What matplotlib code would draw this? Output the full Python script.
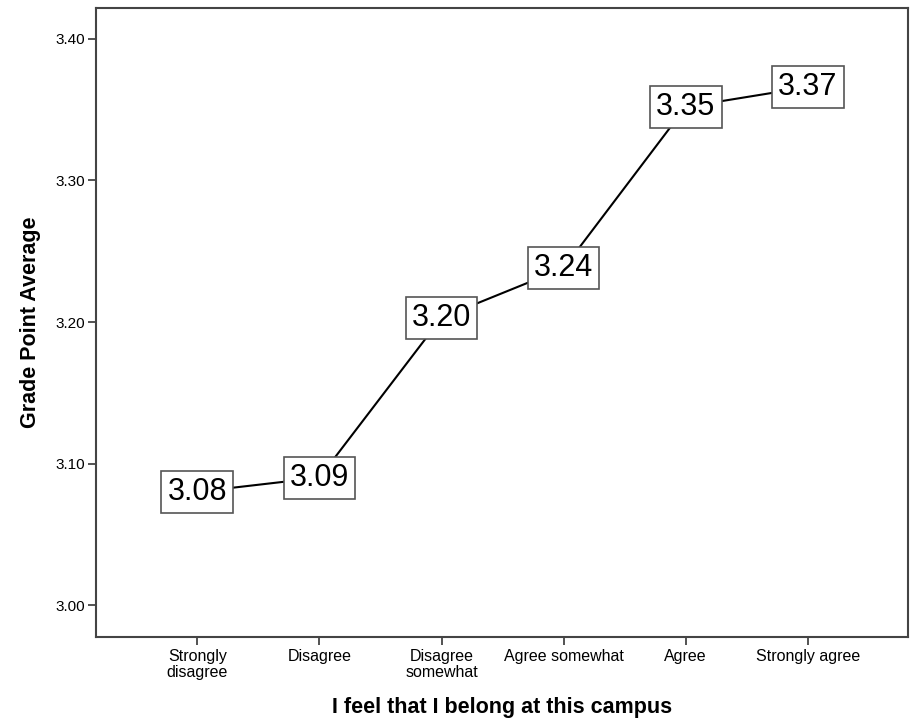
import matplotlib.pyplot as plt
import numpy as np

plt.rcParams['font.family'] = ['Liberation Sans', 'DejaVu Sans']

categories = ['Strongly\ndisagree', 'Disagree', 'Disagree\nsomewhat',
              'Agree somewhat', 'Agree', 'Strongly agree']
gpa = [3.080, 3.090, 3.203, 3.238, 3.352, 3.366]
yticks = [3.00, 3.10, 3.20, 3.30, 3.40]

fig = plt.figure(figsize=(9.10, 7.21), dpi=100)
ax = fig.add_axes([96 / 910, 1 - 637 / 721, 812 / 910, 629 / 721])

x = np.arange(len(categories))
ax.plot(x, gpa, color='black', lw=1.5, zorder=2)
for xi, yi in zip(x, gpa):
    ax.text(xi, yi, '%.2f' % yi, ha='center', va='center', fontsize=22,
            zorder=3,
            bbox=dict(boxstyle='square,pad=0.2', fc='white', ec='#555555', lw=1.2))

ax.set_xlim(-0.83, 5.82)
ax.set_ylim(2.9774, 3.4219)
ax.set_xticks(x)
ax.set_xticklabels(categories, fontsize=11.5, linespacing=1.05)
ax.set_yticks(yticks)
ax.set_yticklabels(['%.2f' % t for t in yticks], fontsize=11)

for s in ax.spines.values():
    s.set_color('#444444')
    s.set_linewidth(1.5)
ax.tick_params(direction='out', length=6, width=1.3, color='#444444', pad=3)
ax.tick_params(axis='y', pad=2)

ax.set_xlabel('I feel that I belong at this campus', fontsize=15.5, fontweight='bold',
              labelpad=12)
ax.set_ylabel('Grade Point Average', fontsize=15.5, fontweight='bold', labelpad=10)

fig.savefig('out.png', dpi=100)
